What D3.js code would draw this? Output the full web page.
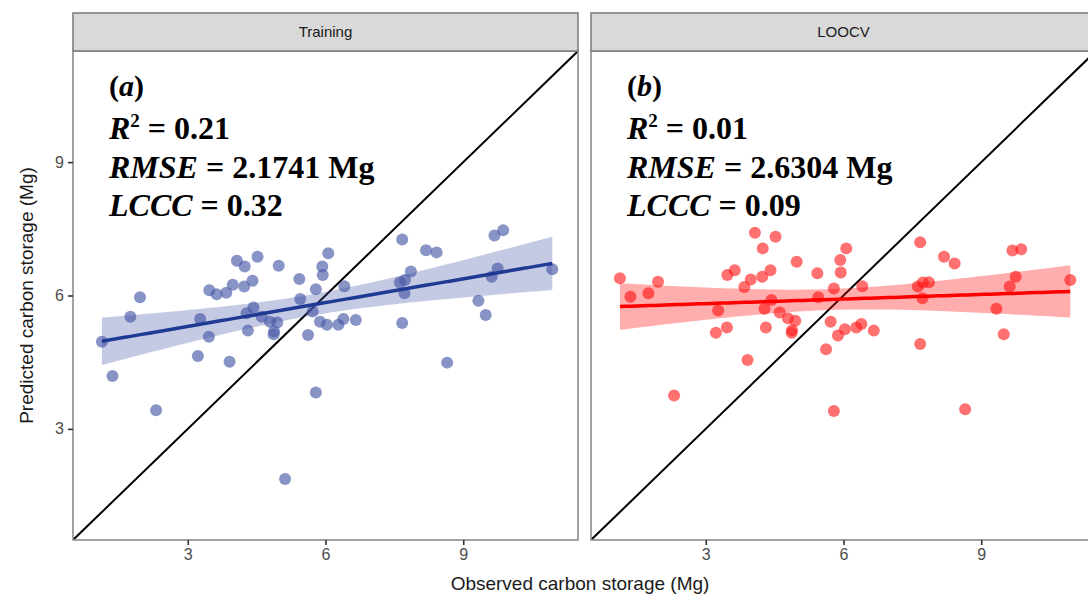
<!DOCTYPE html>
<html>
<head>
<meta charset="UTF-8">
<title>Observed vs predicted carbon storage</title>
<style>
  body { margin: 0; background: #fff; }
  svg { display: block; }
</style>
</head>
<body>
<svg></svg>
<script src="https://d3js.org/d3.v7.min.js"></script>
<script>

let width = 1088, height = 604;

// observed carbon storage (Mg), shared by both panels
let observed = [1.13, 1.36, 1.75, 1.96, 2.31, 3.22, 3.27, 3.46, 3.47, 3.63,
  3.84, 3.91, 3.98, 4.07, 4.24, 4.23, 4.41, 4.52, 4.28, 4.43,
  4.31, 4.61, 4.79, 4.95, 4.88, 4.87, 4.98, 5.12, 5.43, 5.45,
  5.62, 5.72, 5.79, 5.79, 5.88, 5.93, 5.94, 6.06, 6.03, 6.28,
  6.39, 6.41, 6.66, 7.67, 7.67, 7.62, 7.72, 7.73, 7.86, 8.19,
  8.42, 8.65, 9.33, 9.49, 9.68, 9.87, 9.62, 9.75, 10.94];

// predicted, training fit
let predTraining = [4.96, 4.19, 5.52, 5.96, 3.42, 4.64, 5.47, 5.07, 6.12, 6.03,
  6.06, 4.51, 6.24, 6.78, 6.65, 6.20, 6.33, 6.87, 5.60, 5.73,
  5.21, 5.52, 5.41, 5.39, 5.19, 5.13, 6.67, 1.87, 6.37, 5.92,
  5.11, 5.64, 6.14, 3.82, 5.41, 6.65, 6.46, 6.95, 5.34, 5.34,
  5.47, 6.21, 5.45, 7.26, 5.38, 6.29, 6.05, 6.35, 6.54, 7.02,
  6.97, 4.49, 5.88, 5.56, 7.35, 7.47, 6.42, 6.61, 6.59];

// predicted, leave-one-out cross validation (one value falls below the axis range)
let predLoocv = [6.39, 5.97, 6.05, 6.31, 3.75, 5.16, 5.66, 5.28, 6.46, 6.57,
  6.19, 4.55, 6.36, 7.41, 7.06, 6.42, 6.57, 7.32, 5.70, 5.90,
  5.28, 5.62, 5.49, 5.43, 5.22, 5.16, 6.76, 0.30, 6.50, 5.96,
  4.79, 5.41, 6.16, 3.40, 5.10, 6.80, 6.52, 7.06, 5.24, 5.28,
  5.36, 6.21, 5.21, 7.20, 4.91, 6.20, 5.94, 6.29, 6.30, 6.87,
  6.72, 3.44, 5.70, 5.13, 7.01, 7.04, 6.20, 6.42, 6.35];

let panelNames = ["Training", "LOOCV"];
let panelTags = ["a", "b"];
let r2Labels = ["0.21", "0.01"];
let rmseLabels = ["2.1741 Mg", "2.6304 Mg"];
let lcccLabels = ["0.32", "0.09"];

let axisRange = [0.5, 11.5];
let tickValues = [3, 6, 9];

let pointColors = ["#4a5ba8", "#ff1a1a"];
let lineColors = ["#1f3a93", "#ff0000"];
let bandColors = ["#3f51a5", "#ff0000"];

let panelData = [predTraining, predLoocv];

// layout
let panelW = 505, panelTop = 51, panelBottom = 540, stripH = 38;
let panelLeft = [73, 591];

let svg = d3.select("svg")
    .attr("width", width)
    .attr("height", height)
    .attr("viewBox", "0 0 " + width + " " + height);

let y = d3.scaleLinear().domain(axisRange).range([panelBottom, panelTop]);

// least squares fit with 95% confidence band (like geom_smooth(method = "lm"))
function lmFit(xs, ys) {
  let n = xs.length;
  let mx = d3.mean(xs), my = d3.mean(ys);
  let sxx = d3.sum(xs, v => (v - mx) * (v - mx));
  let sxy = d3.sum(xs, (v, i) => (v - mx) * (ys[i] - my));
  let b = sxy / sxx, a = my - b * mx;
  let sse = d3.sum(xs, (v, i) => Math.pow(ys[i] - (a + b * v), 2));
  let s = Math.sqrt(sse / (n - 2));
  let t = 2.0;
  let grid = d3.range(80).map(i => d3.min(xs) + i * (d3.max(xs) - d3.min(xs)) / 79);
  return grid.map(gx => {
    let fit = a + b * gx;
    let se = s * Math.sqrt(1 / n + (gx - mx) * (gx - mx) / sxx);
    return { x: gx, fit: fit, lo: fit - t * se, hi: fit + t * se };
  });
}

panelNames.forEach((name, p) => {
  let x = d3.scaleLinear().domain(axisRange).range([panelLeft[p], panelLeft[p] + panelW]);

  let points = observed.map((o, i) => ({ obs: o, pred: panelData[p][i] }))
    .filter(d => d.pred >= axisRange[0] && d.pred <= axisRange[1]);

  let g = svg.append("g");

  let clipId = "clip" + p;
  svg.append("clipPath").attr("id", clipId)
    .append("rect")
    .attr("x", panelLeft[p]).attr("y", panelTop)
    .attr("width", panelW).attr("height", panelBottom - panelTop);

  let inner = g.append("g").attr("clip-path", "url(#" + clipId + ")");

  // 1:1 line
  inner.append("line")
    .attr("x1", x(axisRange[0])).attr("y1", y(axisRange[0]))
    .attr("x2", x(axisRange[1])).attr("y2", y(axisRange[1]))
    .attr("stroke", "#000")
    .attr("stroke-width", 2);

  // points
  inner.append("g")
    .selectAll("circle")
    .data(points)
    .enter()
    .append("circle")
    .attr("cx", d => x(d.obs))
    .attr("cy", d => y(d.pred))
    .attr("r", 6)
    .attr("fill", pointColors[p])
    .attr("fill-opacity", p == 0 ? 0.65 : 0.62);

  // regression + band
  let fit = lmFit(points.map(d => d.obs), points.map(d => d.pred));

  inner.append("path")
    .datum(fit)
    .attr("d", d3.area().x(d => x(d.x)).y0(d => y(d.lo)).y1(d => y(d.hi)))
    .attr("fill", bandColors[p])
    .attr("fill-opacity", p == 0 ? 0.3 : 0.32);

  inner.append("path")
    .datum(fit)
    .attr("d", d3.line().x(d => x(d.x)).y(d => y(d.fit)))
    .attr("fill", "none")
    .attr("stroke", lineColors[p])
    .attr("stroke-width", 3.5);

  // panel border
  g.append("rect")
    .attr("x", panelLeft[p]).attr("y", panelTop)
    .attr("width", panelW).attr("height", panelBottom - panelTop)
    .attr("fill", "none")
    .attr("stroke", "#8c8c8c")
    .attr("stroke-width", 1.6);

  // strip
  g.append("rect")
    .attr("x", panelLeft[p]).attr("y", panelTop - stripH)
    .attr("width", panelW).attr("height", stripH)
    .attr("fill", "#d9d9d9")
    .attr("stroke", "#7f7f7f")
    .attr("stroke-width", 1.6);

  g.append("text")
    .attr("x", panelLeft[p] + panelW / 2)
    .attr("y", panelTop - stripH / 2)
    .attr("dy", "0.35em")
    .attr("text-anchor", "middle")
    .attr("font-family", "Liberation Sans, Arial, sans-serif")
    .attr("font-size", 15)
    .attr("fill", "#1a1a1a")
    .text(name);

  // x axis
  let xAxis = g.append("g")
    .attr("transform", "translate(0," + panelBottom + ")")
    .call(d3.axisBottom(x).tickValues(tickValues).tickSize(5).tickPadding(4));
  xAxis.select(".domain").remove();
  xAxis.selectAll("line").attr("stroke", "#333").attr("stroke-width", 1.6);
  xAxis.selectAll("text")
    .attr("font-family", "Liberation Sans, Arial, sans-serif")
    .attr("font-size", 16)
    .attr("fill", "#4d4d4d");

  if (p == 0) {
    let yAxis = g.append("g")
      .attr("transform", "translate(" + panelLeft[p] + ",0)")
      .call(d3.axisLeft(y).tickValues(tickValues).tickSize(5).tickPadding(4));
    yAxis.select(".domain").remove();
    yAxis.selectAll("line").attr("stroke", "#333").attr("stroke-width", 1.6);
    yAxis.selectAll("text")
      .attr("font-family", "Liberation Sans, Arial, sans-serif")
      .attr("font-size", 16)
      .attr("fill", "#4d4d4d");
  }

  // statistics annotation
  let tx = panelLeft[p] + 36;
  let serif = "Liberation Serif, Times New Roman, serif";
  let tag = g.append("text")
    .attr("x", tx).attr("y", 96)
    .attr("font-family", serif).attr("font-weight", "bold")
    .attr("font-size", 30).attr("fill", "#000");
  tag.append("tspan").text("(");
  tag.append("tspan").attr("font-style", "italic").text(panelTags[p]);
  tag.append("tspan").text(")");

  let r2 = g.append("text")
    .attr("x", tx).attr("y", 139)
    .attr("font-family", serif).attr("font-weight", "bold")
    .attr("font-size", 32).attr("fill", "#000");
  r2.append("tspan").attr("font-style", "italic").text("R");
  r2.append("tspan").attr("dy", -12).attr("font-size", 19).text("2");
  r2.append("tspan").attr("dy", 12).text(" = " + r2Labels[p]);

  let rmse = g.append("text")
    .attr("x", tx).attr("y", 178)
    .attr("font-family", serif).attr("font-weight", "bold")
    .attr("font-size", 32).attr("fill", "#000");
  rmse.append("tspan").attr("font-style", "italic").text("RMSE");
  rmse.append("tspan").text(" = " + rmseLabels[p]);

  let lccc = g.append("text")
    .attr("x", tx).attr("y", 216)
    .attr("font-family", serif).attr("font-weight", "bold")
    .attr("font-size", 32).attr("fill", "#000");
  lccc.append("tspan").attr("font-style", "italic").text("LCCC");
  lccc.append("tspan").text(" = " + lcccLabels[p]);
});

// axis titles
svg.append("text")
  .attr("x", 580)
  .attr("y", 590)
  .attr("text-anchor", "middle")
  .attr("font-family", "Liberation Sans, Arial, sans-serif")
  .attr("font-size", 19)
  .attr("fill", "#1a1a1a")
  .text("Observed carbon storage (Mg)");

svg.append("text")
  .attr("transform", "translate(33," + ((panelTop + panelBottom) / 2) + ") rotate(-90)")
  .attr("text-anchor", "middle")
  .attr("font-family", "Liberation Sans, Arial, sans-serif")
  .attr("font-size", 19)
  .attr("fill", "#1a1a1a")
  .text("Predicted carbon storage (Mg)");

</script>
</body>
</html>
